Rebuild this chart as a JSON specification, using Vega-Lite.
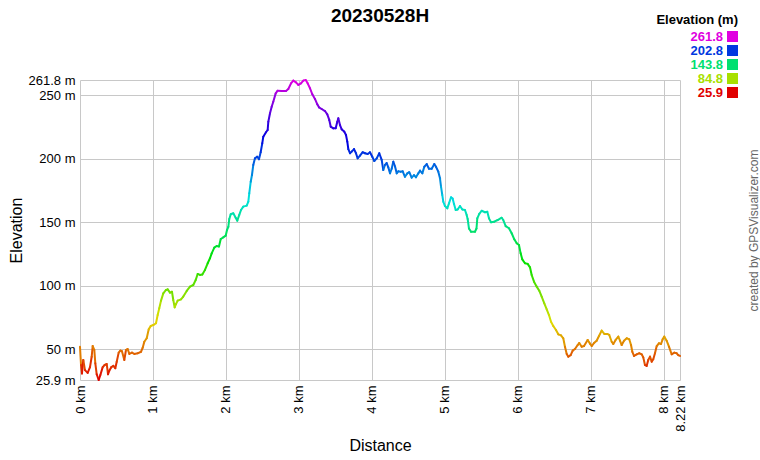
{
 "$schema": "https://vega.github.io/schema/vega-lite/v6.json",
 "width": 600, "height": 300,
 "autosize": {"type": "none"},
 "padding": {"left": 80, "top": 80, "right": 80, "bottom": 80},
 "background": "white",
 "title": {"text": "20230528H", "fontSize": 19, "fontWeight": "bold", "font": "Liberation Sans", "color": "black", "anchor": "middle", "offset": -12},
 "config": {"font": "Liberation Sans", "view": {"stroke": null}},
 "data": {"values": [
{"d":0,"e":52},{"d":0.014,"e":37.7},{"d":0.027,"e":31},{"d":0.045,"e":41.7},{"d":0.068,"e":33.7},{"d":0.105,"e":31.5},{"d":0.137,"e":36},{"d":0.16,"e":44.2},{"d":0.174,"e":52.6},{"d":0.196,"e":49.5},{"d":0.21,"e":39},{"d":0.229,"e":30.4},{"d":0.256,"e":25.9},{"d":0.279,"e":29.8},{"d":0.311,"e":36},{"d":0.338,"e":37.7},{"d":0.366,"e":38.5},{"d":0.384,"e":30.4},{"d":0.402,"e":33.3},{"d":0.429,"e":36},{"d":0.457,"e":37},{"d":0.484,"e":35.1},{"d":0.503,"e":40.3},{"d":0.53,"e":47.4},{"d":0.553,"e":49},{"d":0.575,"e":48.5},{"d":0.607,"e":41.6},{"d":0.63,"e":49.5},{"d":0.653,"e":50.3},{"d":0.676,"e":46.4},{"d":0.712,"e":47.4},{"d":0.744,"e":46.4},{"d":0.79,"e":46.9},{"d":0.836,"e":48.1},{"d":0.859,"e":51.3},{"d":0.881,"e":56},{"d":0.914,"e":58.7},{"d":0.941,"e":65.7},{"d":0.969,"e":68.4},{"d":1.004,"e":69.1},{"d":1.041,"e":70.5},{"d":1.064,"e":77},{"d":1.086,"e":82.3},{"d":1.11,"e":88.3},{"d":1.141,"e":94},{"d":1.178,"e":96.7},{"d":1.201,"e":97.2},{"d":1.233,"e":94.6},{"d":1.26,"e":95.3},{"d":1.278,"e":88.8},{"d":1.297,"e":83},{"d":1.315,"e":85.6},{"d":1.338,"e":88.3},{"d":1.384,"e":89.3},{"d":1.415,"e":91.5},{"d":1.462,"e":95.9},{"d":1.507,"e":99.3},{"d":1.552,"e":100.6},{"d":1.585,"e":104.5},{"d":1.612,"e":109.3},{"d":1.644,"e":108.5},{"d":1.676,"e":108.9},{"d":1.712,"e":112.4},{"d":1.749,"e":117.7},{"d":1.781,"e":121.6},{"d":1.804,"e":125.5},{"d":1.84,"e":130},{"d":1.873,"e":131.3},{"d":1.904,"e":130.8},{"d":1.928,"e":136.8},{"d":1.963,"e":138.1},{"d":1.996,"e":139.4},{"d":2.014,"e":143.8},{"d":2.032,"e":146.4},{"d":2.045,"e":152.5},{"d":2.065,"e":156.2},{"d":2.1,"e":157},{"d":2.133,"e":153.5},{"d":2.155,"e":151.2},{"d":2.182,"e":155.7},{"d":2.206,"e":159.6},{"d":2.237,"e":162.2},{"d":2.284,"e":163},{"d":2.306,"e":166.1},{"d":2.319,"e":172.7},{"d":2.339,"e":181.8},{"d":2.356,"e":187.1},{"d":2.374,"e":195},{"d":2.397,"e":200.2},{"d":2.429,"e":201.5},{"d":2.452,"e":199.5},{"d":2.475,"e":205},{"d":2.497,"e":212},{"d":2.511,"e":217.2},{"d":2.548,"e":220.7},{"d":2.571,"e":222.5},{"d":2.58,"e":229},{"d":2.603,"e":235.6},{"d":2.626,"e":240.8},{"d":2.648,"e":244.7},{"d":2.681,"e":251.3},{"d":2.708,"e":253.4},{"d":2.763,"e":253.2},{"d":2.822,"e":253.2},{"d":2.854,"e":254.7},{"d":2.891,"e":259.2},{"d":2.922,"e":261.3},{"d":2.959,"e":260},{"d":2.991,"e":257.9},{"d":3.028,"e":259.2},{"d":3.059,"e":261.3},{"d":3.092,"e":261.8},{"d":3.119,"e":259.2},{"d":3.151,"e":255.3},{"d":3.183,"e":250.5},{"d":3.219,"e":246.9},{"d":3.251,"e":242.7},{"d":3.274,"e":240.3},{"d":3.311,"e":239},{"d":3.356,"e":237.4},{"d":3.388,"e":234.8},{"d":3.415,"e":230.4},{"d":3.435,"e":225.1},{"d":3.47,"e":223.8},{"d":3.503,"e":223.8},{"d":3.525,"e":229},{"d":3.539,"e":231.7},{"d":3.562,"e":226.4},{"d":3.585,"e":223},{"d":3.621,"e":221.2},{"d":3.644,"e":218.6},{"d":3.662,"e":213.3},{"d":3.676,"e":207.5},{"d":3.699,"e":204.2},{"d":3.722,"e":205.5},{"d":3.754,"e":207.5},{"d":3.781,"e":204.2},{"d":3.804,"e":200.2},{"d":3.836,"e":202.3},{"d":3.873,"e":205},{"d":3.904,"e":204.2},{"d":3.941,"e":203.6},{"d":3.973,"e":205},{"d":4.004,"e":201.5},{"d":4.032,"e":198.1},{"d":4.065,"e":200.2},{"d":4.1,"e":204.2},{"d":4.133,"e":199},{"d":4.155,"e":191},{"d":4.178,"e":195},{"d":4.201,"e":196.5},{"d":4.224,"e":193.1},{"d":4.247,"e":188.4},{"d":4.27,"e":192},{"d":4.292,"e":197.6},{"d":4.316,"e":193.8},{"d":4.339,"e":188.4},{"d":4.361,"e":190},{"d":4.393,"e":189.7},{"d":4.421,"e":190},{"d":4.452,"e":185.7},{"d":4.484,"e":188.4},{"d":4.511,"e":189.3},{"d":4.544,"e":185},{"d":4.576,"e":187},{"d":4.603,"e":185.3},{"d":4.635,"e":188.4},{"d":4.658,"e":190.5},{"d":4.69,"e":188.4},{"d":4.717,"e":193.6},{"d":4.75,"e":195.7},{"d":4.781,"e":192},{"d":4.818,"e":192},{"d":4.854,"e":195.7},{"d":4.877,"e":193.6},{"d":4.909,"e":189.7},{"d":4.932,"e":184.5},{"d":4.946,"e":177.9},{"d":4.963,"e":171.4},{"d":4.977,"e":166.1},{"d":5,"e":162.7},{"d":5.032,"e":160.9},{"d":5.055,"e":164.8},{"d":5.083,"e":169.6},{"d":5.105,"e":168.6},{"d":5.124,"e":164.3},{"d":5.147,"e":159.6},{"d":5.174,"e":160},{"d":5.206,"e":162.7},{"d":5.238,"e":160},{"d":5.274,"e":159.6},{"d":5.297,"e":155.7},{"d":5.311,"e":152.5},{"d":5.329,"e":145},{"d":5.357,"e":142.5},{"d":5.411,"e":142.5},{"d":5.432,"e":145},{"d":5.443,"e":153},{"d":5.47,"e":156.5},{"d":5.503,"e":159},{"d":5.548,"e":157.8},{"d":5.58,"e":158.2},{"d":5.603,"e":153},{"d":5.631,"e":149.9},{"d":5.676,"e":150.4},{"d":5.722,"e":151.7},{"d":5.777,"e":153.5},{"d":5.799,"e":151.7},{"d":5.832,"e":146.9},{"d":5.877,"e":145.2},{"d":5.914,"e":141.3},{"d":5.95,"e":136.5},{"d":5.983,"e":133.4},{"d":6.014,"e":132.1},{"d":6.037,"e":125.5},{"d":6.059,"e":120.8},{"d":6.096,"e":117.7},{"d":6.133,"e":117.2},{"d":6.165,"e":114.5},{"d":6.188,"e":108.5},{"d":6.22,"e":103.2},{"d":6.257,"e":99.3},{"d":6.292,"e":96.1},{"d":6.325,"e":91.4},{"d":6.361,"e":86.2},{"d":6.394,"e":81.5},{"d":6.425,"e":77},{"d":6.453,"e":71.7},{"d":6.484,"e":68.4},{"d":6.521,"e":65.2},{"d":6.553,"e":61.8},{"d":6.59,"e":61},{"d":6.621,"e":58.7},{"d":6.644,"e":52.1},{"d":6.668,"e":46.4},{"d":6.69,"e":44.2},{"d":6.722,"e":45.5},{"d":6.75,"e":49},{"d":6.781,"e":50.3},{"d":6.818,"e":53.4},{"d":6.84,"e":55},{"d":6.873,"e":52.1},{"d":6.905,"e":52.6},{"d":6.955,"e":57.4},{"d":6.987,"e":54.5},{"d":7.01,"e":52.6},{"d":7.046,"e":55.2},{"d":7.078,"e":56.8},{"d":7.11,"e":60.5},{"d":7.147,"e":64.7},{"d":7.183,"e":62.1},{"d":7.224,"e":62.1},{"d":7.251,"e":61.3},{"d":7.284,"e":56},{"d":7.306,"e":54.2},{"d":7.338,"e":57.4},{"d":7.375,"e":60},{"d":7.398,"e":56.8},{"d":7.421,"e":53.4},{"d":7.453,"e":56.8},{"d":7.49,"e":58.7},{"d":7.525,"e":57.9},{"d":7.549,"e":53.4},{"d":7.567,"e":48.1},{"d":7.59,"e":44.8},{"d":7.627,"e":46.1},{"d":7.662,"e":46.9},{"d":7.695,"e":46.1},{"d":7.717,"e":43.7},{"d":7.74,"e":37.7},{"d":7.763,"e":36.9},{"d":7.785,"e":41.6},{"d":7.809,"e":44.3},{"d":7.832,"e":40.3},{"d":7.854,"e":42.2},{"d":7.877,"e":46.9},{"d":7.901,"e":52.6},{"d":7.932,"e":54.8},{"d":7.96,"e":54.2},{"d":7.982,"e":57.9},{"d":8.004,"e":60},{"d":8.037,"e":56.8},{"d":8.069,"e":52.1},{"d":8.106,"e":46.1},{"d":8.142,"e":47.4},{"d":8.175,"e":46.9},{"d":8.196,"e":45.5},{"d":8.22,"e":44.8}
 ]},
 "layer": [
  {
   "transform": [
    {"window": [{"op": "lead", "field": "d", "as": "d2"}, {"op": "lead", "field": "e", "as": "e2"}], "sort": [{"field": "d", "order": "ascending"}]},
    {"filter": "isValid(datum.d2)"}
   ],
   "mark": {"type": "rule", "strokeWidth": 2, "strokeCap": "round"},
   "encoding": {
    "x": {"field": "d", "type": "quantitative", "scale": {"domain": [0, 8.22], "nice": false, "zero": false},
      "axis": {"values": [0,1,2,3,4,5,6,7,8,8.22], "labelExpr": "datum.value + ' km'", "labelAngle": 270, "labelAlign": "right", "labelBaseline": "middle", "labelPadding": 5, "labelFontSize": 13, "labelColor": "black", "labelOverlap": false, "labelBound": false, "labelFlush": false, "ticks": false, "domain": false, "grid": true, "gridColor": "#c8c8c8", "gridOpacity": 1, "title": "Distance", "titleFontSize": 16, "titleFontWeight": "normal", "titleColor": "black", "titlePadding": 6}},
    "x2": {"field": "d2"},
    "y": {"field": "e", "type": "quantitative", "scale": {"domain": [25.9, 261.8], "nice": false, "zero": false},
      "axis": {"values": [25.9,50,100,150,200,250,261.8], "labelExpr": "datum.value + ' m'", "labelPadding": 5, "labelFontSize": 13, "labelColor": "black", "labelOverlap": false, "labelBound": false, "labelFlush": false, "ticks": false, "domain": false, "grid": true, "gridColor": "#c8c8c8", "gridOpacity": 1, "title": "Elevation", "titleFontSize": 16, "titleFontWeight": "normal", "titleColor": "black", "titlePadding": 4}},
    "y2": {"field": "e2"},
    "color": {"field": "e", "type": "quantitative",
      "scale": {"type": "linear", "domain": [25.9, 73.08, 120.26, 167.44, 214.62, 261.8], "range": ["#e00000", "#e0e000", "#00e000", "#00e0e0", "#0000e0", "#e000e0"], "interpolate": "rgb"},
      "legend": {"type": "symbol", "values": [261.8, 202.8, 143.8, 84.8, 25.9], "title": "Elevation (m)", "orient": "none", "legendX": 576, "legendY": -66, "direction": "vertical", "padding": 0,
        "titleFontSize": 13, "titleFontWeight": "bold", "titleColor": "black", "titleAnchor": "end", "titleAlign": "right", "titlePadding": 3,
        "labelFontSize": 13, "labelFontWeight": "bold", "labelAlign": "right", "labelOffset": -16, "labelExpr": "format(datum.value, '.1f')",
        "symbolType": "square", "symbolSize": 121, "symbolStrokeWidth": 0, "rowPadding": -1,
        "encode": {"symbols": {"update": {"fill": {"scale": "color", "field": "value"}, "stroke": {"value": "transparent"}, "opacity": {"value": 1}}}, "labels": {"update": {"fill": {"scale": "color", "field": "value"}}}}}}
   }
  },
  {
   "mark": {"type": "point", "opacity": 0},
   "encoding": {
    "x": {"field": "d", "type": "quantitative"},
    "y": {"field": "e", "type": "quantitative", "axis": {"orient": "right", "title": "created by GPSVisualizer.com", "labels": false, "ticks": false, "domain": false, "grid": false, "titleAngle": 270, "titlePadding": 80, "titleFontSize": 12, "titleFontWeight": "normal", "titleColor": "#666666"}}
   }
  }
 ],
 "resolve": {"axis": {"y": "independent"}}
}
